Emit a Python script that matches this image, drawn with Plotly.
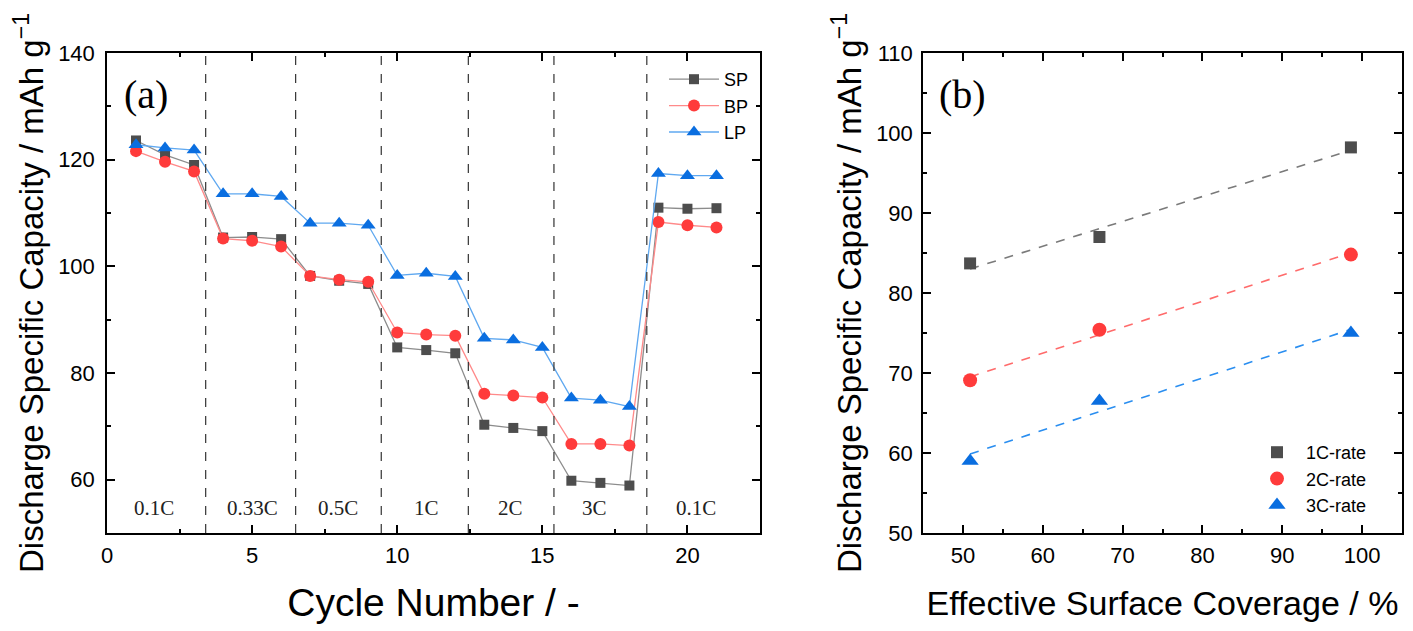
import numpy as np
import plotly.graph_objects as go

# (a) discharge capacity vs cycle number
ciclos = list(range(1, 22))
sp = [123.6, 120.9, 119.0, 105.4, 105.5, 105.1, 98.2, 97.3, 96.7,
      84.8, 84.3, 83.7, 70.3, 69.7, 69.1, 59.8, 59.4, 58.9, 111.0, 110.8, 110.9]
bp = [121.6, 119.6, 117.8, 105.2, 104.8, 103.7, 98.2, 97.5, 97.1,
      87.6, 87.2, 87.0, 76.1, 75.8, 75.4, 66.7, 66.7, 66.4, 108.3, 107.7, 107.3]
lp = [122.8, 122.2, 121.8, 113.6, 113.6, 113.1, 108.1, 108.1, 107.7,
      98.3, 98.7, 98.1, 86.5, 86.2, 84.8, 75.3, 74.9, 73.7, 117.4, 117.0, 117.0]

# separaciones entre regimenes de corriente
separadores = [3.4, 6.5, 9.45, 12.45, 15.4, 18.6]
regimenes = ["0.1C", "0.33C", "0.5C", "1C", "2C", "3C", "0.1C"]
pos_regimenes = [1.62, 5.02, 7.96, 11.0, 13.9, 16.8, 20.3]
y_regimenes = 54.6

# (b) capacity vs effective surface coverage
cobertura = [50.9, 67.1, 98.6]
cap_1c = [83.7, 87.0, 98.2]
cap_2c = [69.1, 75.4, 84.8]
cap_3c = [59.0, 66.5, 75.0]

# la pagina tiene 8 px de margen; tamaño de la figura ajustado a la ventana
OFF = 8
W, H = 1413 - 2 * OFF, 631 - OFF


def px_x(s):
    return (s - OFF) / W


def px_y(s):
    return 1 - (s - OFF) / H


fig = go.Figure()

series_a = [
    ("SP", sp, "#4d4d4d", "#8c8c8c", "square", 10),
    ("BP", bp, "#ff3b3b", "#ff8a8a", "circle", 12),
    ("LP", lp, "#0a6ee0", "#5fa8f0", "triangle-up", 13),
]
for nombre, datos, c_marker, c_line, simbolo, tam in series_a:
    fig.add_trace(go.Scatter(
        x=ciclos, y=datos, name=nombre, mode="lines+markers",
        line=dict(color=c_line, width=1.3),
        marker=dict(color=c_marker, symbol=simbolo, size=tam),
        xaxis="x", yaxis="y", legend="legend"))

series_b = [
    ("1C-rate", cap_1c, "#4d4d4d", "#7a7a7a", "square", 12),
    ("2C-rate", cap_2c, "#ff3b3b", "#ff6b6b", "circle", 14),
    ("3C-rate", cap_3c, "#0a6ee0", "#2a8ef0", "triangle-up", 15),
]
for nombre, datos, c_marker, c_line, simbolo, tam in series_b:
    pendiente, corte = np.polyfit(cobertura, datos, 1)
    x_fit = np.array([cobertura[0], cobertura[-1]])
    fig.add_trace(go.Scatter(
        x=x_fit, y=pendiente * x_fit + corte, mode="lines", showlegend=False,
        line=dict(color=c_line, width=1.6, dash="dash"),
        xaxis="x2", yaxis="y2", hoverinfo="skip"))
    fig.add_trace(go.Scatter(
        x=cobertura, y=datos, name=nombre, mode="markers",
        marker=dict(color=c_marker, symbol=simbolo, size=tam),
        xaxis="x2", yaxis="y2", legend="legend2"))

for xs in separadores:
    fig.add_shape(type="line", xref="x", yref="y domain", x0=xs, x1=xs, y0=0, y1=1,
                  line=dict(color="#333333", width=1.2, dash="dash"))

for texto, xr in zip(regimenes, pos_regimenes):
    fig.add_annotation(x=xr, y=y_regimenes, xref="x", yref="y", text=texto, showarrow=False,
                       font=dict(family="Liberation Serif", size=21, color="#222222"))

fig.add_annotation(x=px_x(146), y=px_y(95), xref="paper", yref="paper", text="(a)",
                   showarrow=False, xanchor="center", yanchor="middle",
                   font=dict(family="Liberation Serif", size=40, color="black"))
fig.add_annotation(x=px_x(962), y=px_y(95), xref="paper", yref="paper", text="(b)",
                   showarrow=False, xanchor="center", yanchor="middle",
                   font=dict(family="Liberation Serif", size=40, color="black"))

ejes = dict(showline=True, linecolor="black", linewidth=1.5, mirror="ticks",
            ticks="inside", ticklen=8, tickwidth=1.5, tickcolor="black",
            showgrid=False, zeroline=False, automargin=False,
            tickfont=dict(family="Liberation Sans", size=22, color="black"))
titulo_y = "Discharge Specific Capacity / mAh g<sup>\u22121</sup>"

fig.update_layout(
    width=W, height=H,
    margin=dict(l=0, r=0, t=0, b=0),
    paper_bgcolor="white", plot_bgcolor="white",
    font=dict(family="Liberation Sans", color="black"),
    xaxis=dict(domain=[px_x(107), px_x(760)], range=[0, 22.5], dtick=5, tick0=0,
               minor=dict(ticks="inside", dtick=2.5, ticklen=4, tickcolor="black"),
               title=dict(text="Cycle Number / -", font=dict(size=39), standoff=22),
               ticklabelstandoff=2, anchor="y", **ejes),
    yaxis=dict(domain=[px_y(533), px_y(53)], range=[50, 140], dtick=20, tick0=0,
               minor=dict(ticks="inside", dtick=10, ticklen=4, tickcolor="black"),
               title=dict(text=titulo_y, font=dict(size=33), standoff=7),
               ticklabelstandoff=6, anchor="x", **ejes),
    xaxis2=dict(domain=[px_x(923), px_x(1402)], range=[45, 105], dtick=10, tick0=0,
                minor=dict(ticks="inside", dtick=5, ticklen=4, tickcolor="black"),
                title=dict(text="Effective Surface Coverage / %", font=dict(size=34), standoff=24),
                ticklabelstandoff=2, anchor="y2", **ejes),
    yaxis2=dict(domain=[px_y(533), px_y(53)], range=[50, 110], dtick=10, tick0=0,
                minor=dict(ticks="inside", dtick=5, ticklen=4, tickcolor="black"),
                title=dict(text=titulo_y, font=dict(size=33), standoff=5),
                ticklabelstandoff=4, anchor="x2", **ejes),
    legend=dict(x=px_x(664), y=px_y(61), xanchor="left", yanchor="top",
                bgcolor="rgba(0,0,0,0)", font=dict(size=18), itemwidth=50,
                tracegroupgap=0),
    legend2=dict(x=px_x(1248), y=px_y(434), xanchor="left", yanchor="top",
                 bgcolor="rgba(0,0,0,0)", font=dict(size=18), itemwidth=48),
)

fig.write_html("out.html")
